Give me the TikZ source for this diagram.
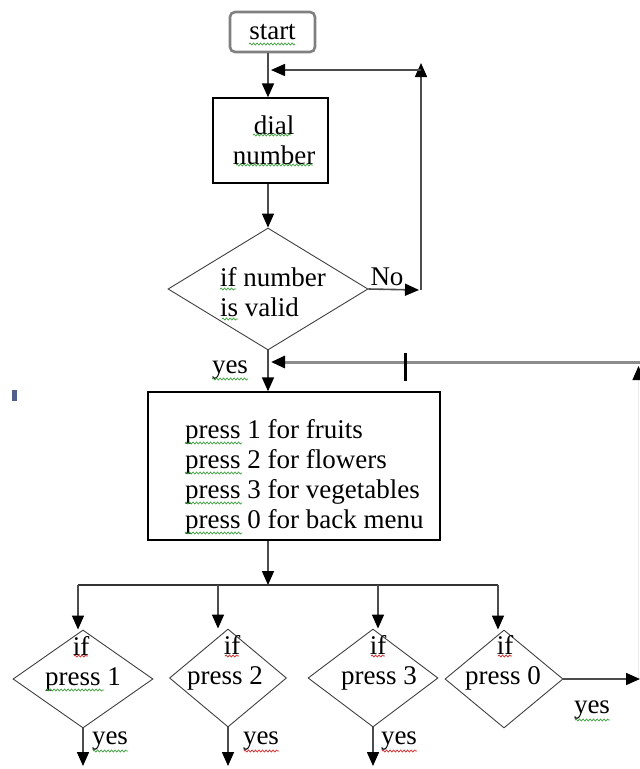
\documentclass[tikz,border=0pt]{standalone}
\usepackage{fontspec}
\setmainfont{Liberation Serif}
\usetikzlibrary{arrows.meta,shapes.geometric,decorations.pathmorphing}
\definecolor{spellgreen}{RGB}{60,160,60}
\definecolor{spellred}{RGB}{210,40,40}
\definecolor{dotblue}{RGB}{80,95,140}
\begin{document}
\begin{tikzpicture}[x=1pt,y=-1pt,
  font=\fontsize{27}{30}\selectfont,
  tip/.style={-{Triangle[length=14pt,width=12pt,color=black]}},
  conn/.style={draw=black!70, line width=1.6pt, tip},
  plain/.style={draw=black!80, line width=1.4pt},
  backline/.style={draw=black!45, line width=3pt, tip},
  faintline/.style={draw=black!8, line width=1pt, tip},
  startbox/.style={draw=black!50, line width=2.6pt, rounded corners=5pt, inner sep=0pt},
  procbox/.style={draw=black, line width=1.3pt, inner sep=0pt},
  decision/.style={diamond, draw=black!75, line width=0.9pt, inner sep=0pt},
  txt/.style={inner sep=0pt},
  squig/.style={decorate, decoration={snake, segment length=3.5pt, amplitude=1pt}, line width=0.7pt}
]
\useasboundingbox (0,0) rectangle (640,769);
\fill[white] (0,0) rectangle (640,769);

% spine of the upper part
\coordinate (spine) at (268,0);

% boxes and decisions
\node[startbox, minimum width=85pt, minimum height=40pt] (start) at (272.5,32) {start};
\node[procbox, minimum width=115pt, minimum height=85pt] (dial) at (270.5,140.5) {};
\node[txt, align=center] (dialtxt) at (274,140) {dial\\number};
\node[decision, minimum width=200pt, minimum height=122pt] (valid) at (268,289) {};
\node[txt, anchor=west, align=left] (validtxt) at (220,292) {if number\\is valid};
\node[procbox, minimum width=292pt, minimum height=148pt] (menu) at (294,466) {};
\node[txt, anchor=west, align=left] (menutxt) at (185,477)
  {press 1 for fruits\\press 2 for flowers\\press 3 for vegetables\\press 0 for back menu};

\node[decision, minimum width=140pt, minimum height=98pt] (p1) at (83,679) {};
\node[decision, minimum width=117pt, minimum height=98pt] (p2) at (228,678) {};
\node[decision, minimum width=130pt, minimum height=98pt] (p3) at (373,678) {};
\node[decision, minimum width=118pt, minimum height=98pt] (p4) at (504,679) {};

\node[txt] (if1) at (81,646) {if};
\node[txt] (pr1) at (83,679) {press 1};
\node[txt] (if2) at (232,645) {if};
\node[txt] (pr2) at (225,678) {press 2};
\node[txt] (if3) at (378,645) {if};
\node[txt] (pr3) at (379,678) {press 3};
\node[txt] (if4) at (505,645) {if};
\node[txt] (pr4) at (503,678) {press 0};

% labels
\node[txt] (nolbl) at (387,277) {No};
\node[txt] (yes0) at (230,370) {yes};
\node[txt] (yes1) at (110,741) {yes};
\node[txt] (yes2) at (261,741) {yes};
\node[txt] (yes3) at (399,741) {yes};
\node[txt] (yes4) at (592,710) {yes};

% upper flow
\draw[conn] (spine |- start.south) -- (spine |- dial.north);
\draw[conn] (spine |- dial.south) -- (valid.north);

% "No" loop back above the dial box
\coordinate (noend) at (419,290);
\coordinate (loopcorner) at (421,70);
\coordinate (looptop) at (421,63);
\coordinate (loopin) at (271,70);
\draw[conn] (valid.east) -- (noend);
\draw[conn] (noend -| loopcorner) -- (looptop);
\draw[conn] (loopcorner) -- (loopin);

% "yes" into the menu
\draw[conn] (valid.south) -- (valid.south |- menu.north);

% return line from the right edge
\coordinate (backR) at (641,362);
\coordinate (backL) at (271,362);
\draw[backline] (backR) -- (backL);
\draw[black, line width=3pt] (405,353) -- (405,381);
\coordinate (rightbot) at (638.5,679);
\coordinate (righttop) at (638.5,366);
\draw[faintline] (rightbot) -- (righttop);

% branch bus under the menu
\coordinate (bus1) at (78,585);
\coordinate (bus2) at (218,585);
\coordinate (bus3) at (378,585);
\coordinate (bus4) at (498,585);
\draw[conn] (valid.south |- menu.south) -- (valid.south |- bus1);
\draw[plain] (bus1) -- (bus4);
\draw[conn] (bus1) -- (bus1 |- p1.north);
\draw[conn] (bus2) -- (bus2 |- p2.north);
\draw[conn] (bus3) -- (bus3 |- p3.north);
\draw[conn] (bus4) -- (bus4 |- p4.north);

% exits of the decisions
\coordinate (floor) at (0,766);
\coordinate (edge) at (640,0);
\draw[conn] (p1.south) -- (p1.south |- floor);
\draw[conn] (p2.south) -- (p2.south |- floor);
\draw[conn] (p3.south) -- (p3.south |- floor);
\draw[conn] (p4.east) -- (p4.east -| edge);

% stray mark at the left margin
\fill[dotblue] (12,390) rectangle (17,401);

% spell-check underlines
\draw[squig, spellgreen] (249,44) -- (295,44);
\draw[squig, spellgreen] (253,135) -- (291,135);
\draw[squig, spellgreen] (236,165) -- (313,165);
\draw[squig, spellgreen] (220,289) -- (236,289);
\draw[squig, spellgreen] (222,319) -- (238,319);
\draw[squig, spellgreen] (212,379) -- (248,379);
\foreach \yy in {443,473,503,533}
  \draw[squig, spellgreen] (185,\yy) -- (242,\yy);
\draw[squig, spellgreen] (46,690) -- (104,690);
\foreach \xx in {81,232,378,505}
  \draw[squig, spellred] (\xx-7,656) -- (\xx+7,656);
\draw[squig, spellgreen] (93,751) -- (128,751);
\draw[squig, spellred] (244,751) -- (279,751);
\draw[squig, spellred] (382,751) -- (417,751);
\draw[squig, spellgreen] (575,720) -- (610,720);
\end{tikzpicture}
\end{document}
